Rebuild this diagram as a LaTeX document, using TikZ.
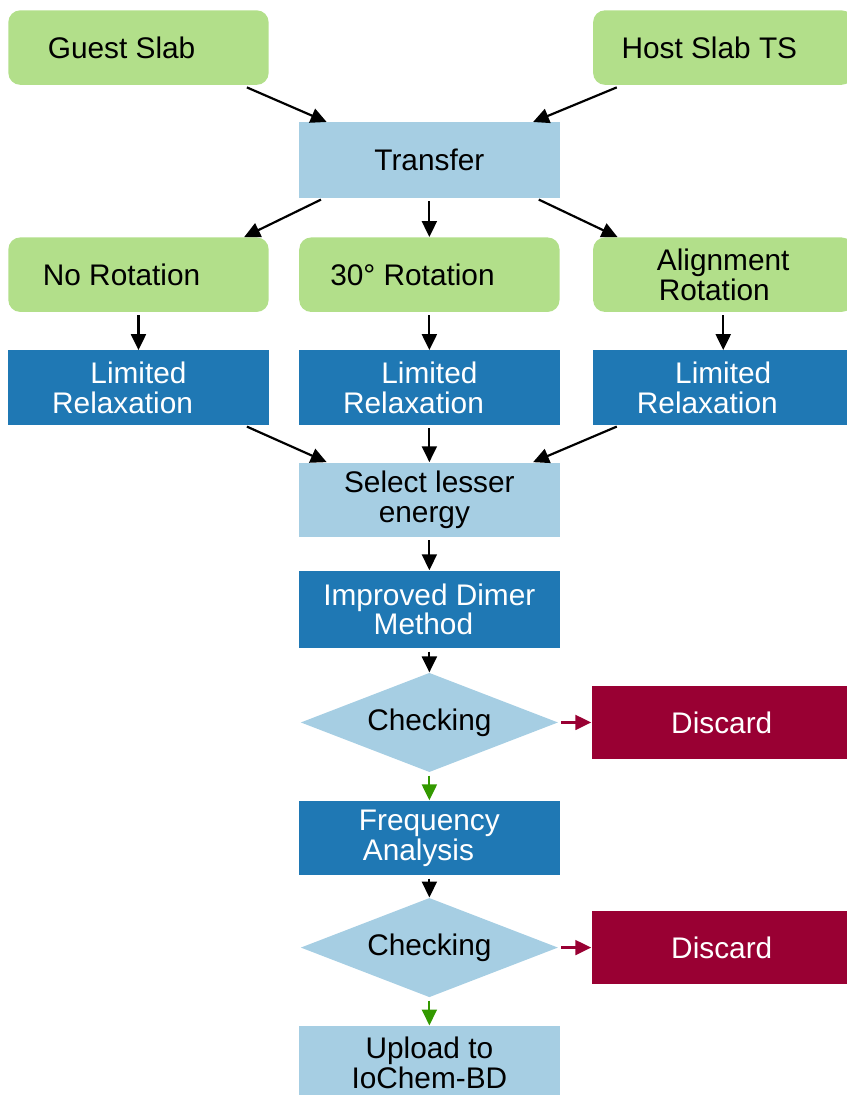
\documentclass[tikz,border=0pt]{standalone}
\usepackage{fontspec}
\setmainfont{Liberation Sans}
\usepackage{tikz}
\usetikzlibrary{shapes.geometric, arrows.meta, positioning}
\definecolor{SlabGreen}{HTML}{B2DF8A}
\definecolor{PaleBlue}{HTML}{A6CEE3}
\definecolor{StepBlue}{HTML}{1F78B4}
\definecolor{DiscardRed}{HTML}{990033}
\definecolor{PassGreen}{HTML}{339900}

\begin{document}
\begin{tikzpicture}[
    font=\fontsize{15}{15}\selectfont,
    inputbox/.style={
        rectangle, rounded corners=6pt, fill=SlabGreen, text=black,
        minimum width=131pt, minimum height=37.5pt, align=center, inner sep=2pt
    },
    plainbox/.style={
        rectangle, fill=PaleBlue, text=black,
        minimum width=131pt, minimum height=37.5pt, align=center, inner sep=2pt
    },
    darkbox/.style={
        rectangle, fill=StepBlue, text=white,
        minimum width=131pt, minimum height=37.5pt, align=center, inner sep=2pt
    },
    check/.style={
        diamond, fill=PaleBlue, text=black, aspect=2.6,
        minimum width=129.5pt, minimum height=50pt, inner sep=1pt
    },
    discardbox/.style={
        rectangle, fill=DiscardRed, text=white,
        minimum width=131pt, minimum height=37pt, align=center
    },
    arrow/.style={-{Triangle[length=8pt,width=7.5pt]}, line width=1.1pt, black, shorten <=1.5pt},
    passarrow/.style={arrow, color=PassGreen},
    failarrow/.style={arrow, color=DiscardRed}
]

% Nodes
\node[plainbox, minimum height=38pt] (transfer) {Transfer};
\node[inputbox, above left=18.5pt and 15pt of transfer] (guest) {Guest Slab\kern17pt};
\node[inputbox, above right=18.5pt and 16.5pt of transfer] (host) {Host Slab TS\kern14pt};

\node[inputbox, below=19.5pt of transfer] (rot30) {30° Rotation\kern17pt};
\node[inputbox, left=15pt of rot30] (norot) {No Rotation\kern17pt};
\node[inputbox, right=16.5pt of rot30] (alignrot) {Alignment\\Rotation\kern9pt};

\node[darkbox, below=19pt of rot30] (relax2) {Limited\\Relaxation\kern16pt};
\node[darkbox, left=15pt of relax2] (relax1) {Limited\\Relaxation\kern16pt};
\node[darkbox, right=16.5pt of relax2] (relax3) {Limited\\Relaxation\kern16pt};

\node[plainbox, below=18.5pt of relax2] (select) {Select lesser\\energy\kern5pt};
\node[darkbox, below=16.5pt of select, minimum height=39pt] (dimer) {Improved Dimer\\Method\kern6pt};
\node[check, below=12pt of dimer] (check1) {Checking};
\node[discardbox, right=16.5pt of check1] (discard1) {Discard};
\node[darkbox, below=14pt of check1] (freq) {Frequency\\Analysis\kern11pt};
\node[check, below=11pt of freq] (check2) {Checking};
\node[discardbox, right=16.5pt of check2] (discard2) {Discard};
\node[plainbox, below=14pt of check2] (upload) {Upload to\\IoChem-BD};

% Paths
\draw[arrow] ([xshift=-12.5pt,yshift=-0.5pt]guest.south east) -- ([xshift=14pt]transfer.north west);
\draw[arrow] ([xshift=13.5pt,yshift=-0.5pt]host.south west) -- ([xshift=-13.5pt]transfer.north east);

\draw[arrow] ([xshift=12.5pt]transfer.south west) -- ([xshift=-12.5pt]norot.north east);
\draw[arrow] (transfer) -- (rot30);
\draw[arrow] ([xshift=-12pt]transfer.south east) -- ([xshift=12.5pt]alignrot.north west);

\draw[arrow] (norot) -- (relax1);
\draw[arrow] (rot30) -- (relax2);
\draw[arrow] (alignrot) -- (relax3);

\draw[arrow] ([xshift=-12.5pt]relax1.south east) -- ([xshift=14pt]select.north west);
\draw[arrow] (relax2) -- (select);
\draw[arrow] ([xshift=13.5pt]relax3.south west) -- ([xshift=-13.5pt]select.north east);

\draw[arrow] (select) -- (dimer);
\draw[arrow] (dimer) -- (check1);
\draw[failarrow] (check1) -- (discard1);
\draw[passarrow] (check1) -- (freq);
\draw[arrow] (freq) -- (check2);
\draw[failarrow] (check2) -- (discard2);
\draw[passarrow] (check2) -- (upload);

% Page
\coordinate (corner) at (upload.north -| host.west);
\pgfresetboundingbox
\path[use as bounding box] ([shift={(-4pt,5pt)}]guest.north west) rectangle ([shift={(127.5pt,-35pt)}]corner);

\end{tikzpicture}
\end{document}
